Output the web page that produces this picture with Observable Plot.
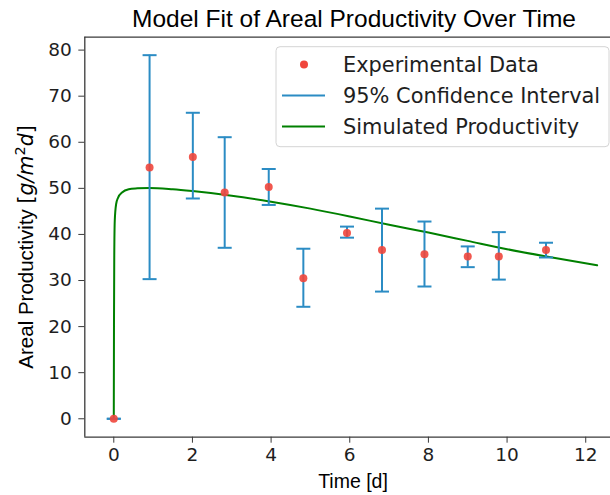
<!DOCTYPE html>
<html>
<head>
<meta charset="utf-8">
<script src="https://cdn.jsdelivr.net/npm/d3@7"></script>
<script src="https://cdn.jsdelivr.net/npm/@observablehq/plot@0.6"></script>
<style>
  html, body { margin: 0; padding: 0; background: #fff; overflow: hidden; }
  #chart { width: 610px; height: 495px; }
</style>
</head>
<body>
<div id="chart"></div>
<script>
// Measured areal productivity with 95% confidence bounds
const times        = [0, 0.91, 2.01, 2.82, 3.94, 4.82, 5.93, 6.82, 7.90, 9.00, 9.79, 10.99];
const productivity = [0, 54.5, 56.8, 49.1, 50.3, 30.5, 40.3, 36.6, 35.7, 35.2, 35.2, 36.6];
const ciLow        = [0, 30.3, 47.8, 37.1, 46.4, 24.3, 39.3, 27.6, 28.7, 32.9, 30.2, 35.0];
const ciHigh       = [0, 78.9, 66.4, 61.1, 54.2, 36.9, 41.7, 45.6, 42.8, 37.4, 40.5, 38.2];

// Simulated productivity from the fitted model
const simTime         = [0, 0.005, 0.012, 0.025, 0.06, 0.11, 0.21, 0.38, 0.6, 0.9, 1.5, 2.0, 3.0, 4.0, 5.0, 6.0, 7.0, 8.0, 9.0, 10.0, 11.0, 12.29];
const simProductivity = [0, 20, 35, 43, 46.6, 48.0, 49.1, 49.8, 50.0, 50.1, 49.8, 49.4, 48.4, 47.1, 45.6, 43.9, 42.1, 40.4, 38.6, 36.8, 35.2, 33.3];

// Axis ticks and view limits
const xTicks = [0, 2, 4, 6, 8, 10, 12];
const yTicks = [0, 10, 20, 30, 40, 50, 60, 70, 80];
const xDomain = [-0.737, 12.63];
const yDomain = [-4.0, 82.8];

const title = "Model Fit of Areal Productivity Over Time";
const xLabel = "Time [d]";
const legendLabels = ["Experimental Data", "95% Confidence Interval", "Simulated Productivity"];

const colors = { data: "#f0463c", ci: "#2b8cc4", sim: "#008000", axis: "#3a3a3a", text: "#1e1e1e" };

const measured = times.map((t, i) => ({ t, p: productivity[i], lo: ciLow[i], hi: ciHigh[i] }));
const simulated = simTime.map((t, i) => ({ t, p: simProductivity[i] }));

// Horizontal cap used at both ends of each confidence bar
const capSymbol = {
  draw(context) {
    context.moveTo(-7, 0);
    context.lineTo(7, 0);
  }
};

const svg = Plot.plot({
  width: 610,
  height: 495,
  marginTop: 36.7,
  marginBottom: 58.3,
  marginLeft: 84.3,
  marginRight: 0,
  style: { fontFamily: "DejaVu Sans", fontSize: "18.5px", color: colors.text, background: "#fff" },
  x: { domain: xDomain, label: null },
  y: { domain: yDomain, label: null },
  marks: [
    Plot.axisX(xTicks, { tickSize: 6, tickPadding: 5, stroke: colors.axis, label: null }),
    Plot.axisY(yTicks, { tickSize: 6, tickPadding: 7, stroke: colors.axis, label: null }),
    // spines: left, bottom and top (the right edge falls outside the view)
    Plot.ruleX([xDomain[0]], { stroke: colors.axis, strokeWidth: 1.3 }),
    Plot.ruleY([yDomain[0], yDomain[1]], { stroke: colors.axis, strokeWidth: 1.3 }),
    Plot.line(simulated, { x: "t", y: "p", stroke: colors.sim, strokeWidth: 2, curve: "monotone-x" }),
    Plot.ruleX(measured, { x: "t", y1: "lo", y2: "hi", stroke: colors.ci, strokeWidth: 2 }),
    Plot.dot(measured, { x: "t", y: "lo", symbol: capSymbol, r: 7, stroke: colors.ci, strokeWidth: 2 }),
    Plot.dot(measured, { x: "t", y: "hi", symbol: capSymbol, r: 7, stroke: colors.ci, strokeWidth: 2 }),
    Plot.dot(measured, { x: "t", y: "p", r: 4, fill: colors.data, fillOpacity: 0.9 })
  ]
});

const s = d3.select(svg);

// Title
s.append("text")
  .attr("x", 354).attr("y", 27)
  .attr("text-anchor", "middle")
  .attr("font-family", "Liberation Sans, Arial, sans-serif")
  .attr("font-size", 24.5)
  .attr("fill", "#000")
  .text(title);

// X axis label
s.append("text")
  .attr("x", 353).attr("y", 488)
  .attr("text-anchor", "middle")
  .attr("font-family", "Liberation Sans, Arial, sans-serif")
  .attr("font-size", 19.5)
  .attr("fill", "#000")
  .text(xLabel);

// Y axis label with math-style units
const yl = s.append("text")
  .attr("transform", "translate(33,247) rotate(-90)")
  .attr("text-anchor", "middle")
  .attr("fill", "#000")
  .attr("font-size", 20.5);
yl.append("tspan").attr("font-family", "Liberation Sans, Arial, sans-serif").text("Areal Productivity ");
yl.append("tspan").attr("font-family", "DejaVu Sans").text("[");
yl.append("tspan").attr("font-family", "DejaVu Sans").attr("font-style", "oblique").text("g/m");
yl.append("tspan").attr("font-family", "DejaVu Sans").attr("font-size", 14.5).attr("dy", -8).text("2");
yl.append("tspan").attr("font-family", "DejaVu Sans").attr("font-style", "oblique").attr("dy", 8).text("d");
yl.append("tspan").attr("font-family", "DejaVu Sans").text("]");

// Legend
const lg = s.append("g")
  .attr("font-family", "DejaVu Sans")
  .attr("font-size", 20.9)
  .attr("text-anchor", "start");
lg.append("rect")
  .attr("x", 276).attr("y", 46.7).attr("width", 333).attr("height", 100)
  .attr("rx", 4)
  .attr("fill", "#fff").attr("fill-opacity", 0.85)
  .attr("stroke", "#d4d4d4").attr("stroke-width", 1);
const rowY = [64.5, 95.5, 126.5];
lg.append("circle").attr("cx", 304).attr("cy", rowY[0]).attr("r", 4).attr("fill", colors.data);
lg.append("line").attr("x1", 282).attr("x2", 325).attr("y1", rowY[1]).attr("y2", rowY[1])
  .attr("stroke", colors.ci).attr("stroke-width", 2);
lg.append("line").attr("x1", 282).attr("x2", 325).attr("y1", rowY[2]).attr("y2", rowY[2])
  .attr("stroke", colors.sim).attr("stroke-width", 2);
legendLabels.forEach((label, i) => {
  lg.append("text")
    .attr("x", 343).attr("y", rowY[i] + 7.4)
    .attr("text-anchor", "start")
    .attr("fill", colors.text)
    .text(label);
});

document.getElementById("chart").appendChild(svg);
</script>
</body>
</html>
